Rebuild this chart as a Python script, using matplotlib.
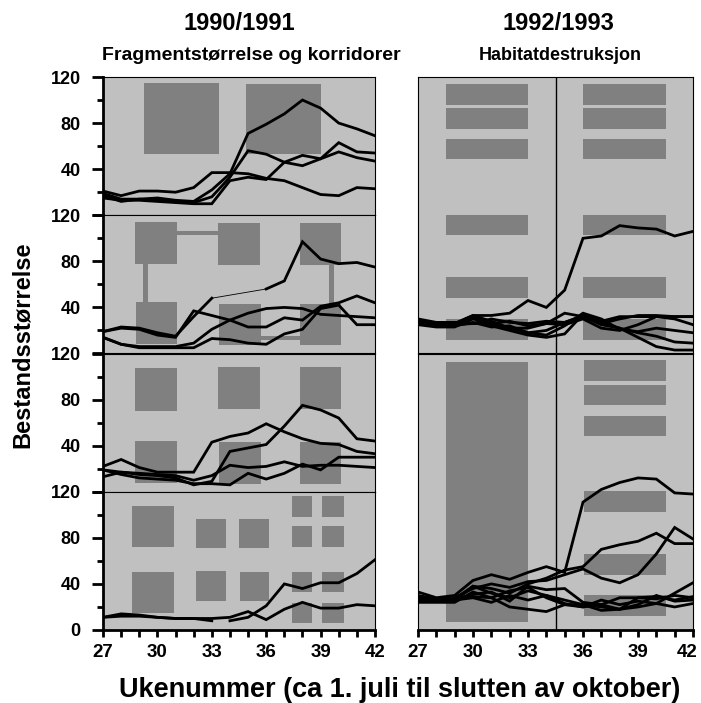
import numpy as np
import matplotlib.pyplot as plt
import matplotlib.transforms as mtransforms
from matplotlib.patches import Rectangle

nan = np.nan
weeks = np.arange(27, 43)

# --- population size per week ---
# 1990/1991: fragment size and corridors (4 panels)
panel1 = [
    [19, 14, 14, 15, 13, 12, 22, 36, 71, 79, 88, 100, 93, 80, 75, 69],
    [17, 12, 14, 13, 12, 11, 16, 33, 56, 53, 46, 43, 49, 63, 55, 54],
    [15, 13, 13, 12, 11, 10, 10, 30, 33, 31, 46, 52, 49, 55, 50, 47],
    [21, 17, 21, 21, 20, 24, 37, 37, 36, 32, 30, 24, 18, 17, 24, 23],
]
panel2 = [
    [19, 23, 22, 18, 15, 32, 48, nan, nan, 56, 63, 97, 82, 78, 79, 75],
    [19, 22, 21, 16, 14, 37, 33, 29, 23, 23, 31, 29, 41, 44, 50, 44],
    [14, 8, 6, 6, 6, 9, 21, 29, 35, 39, 40, 39, 34, 33, 32, 31],
    [14, 8, 5, 5, 5, 5, 13, 12, 9, 8, 17, 21, 39, 42, 25, 25],
]
panel3 = [
    [13, 17, 15, 14, 12, 6, 9, 35, 38, 41, 57, 75, 71, 64, 46, 44],
    [22, 28, 21, 17, 17, 17, 43, 48, 51, 59, 52, 46, 42, 41, 35, 33],
    [19, 17, 16, 15, 14, 10, 14, 23, 21, 22, 26, 22, 23, 23, 22, 21],
    [19, 15, 12, 11, 10, 7, 7, 6, 16, 11, 16, 24, 19, 30, 30, 30],
]
panel4 = [
    [11, 14, 13, 11, 10, 10, 8, nan, nan, nan, nan, nan, nan, nan, nan, nan],
    [nan, nan, nan, nan, nan, nan, nan, 8, 11, 21, 40, 36, 41, 41, 49, 61],
    [11, 12, 12, 11, 10, 10, 10, 11, 16, 9, 18, 24, 19, 19, 22, 21],
]
# 1992/1993: habitat destruction (2 panels)
panel5 = [
    [28, 25, 26, 33, 33, 35, 46, 40, 55, 100, 102, 111, 109, 108, 102, 106],
    [29, 26, 25, 32, 24, 20, 16, 14, 17, 34, 27, 22, 14, 6, 3, 3],
    [27, 24, 26, 33, 28, 22, 22, 26, 35, 32, 25, 22, 18, 15, 10, 9],
    [30, 27, 27, 26, 30, 27, 26, 28, 27, 33, 28, 32, 32, 32, 30, 25],
    [26, 25, 25, 26, 26, 28, 24, 26, 25, 30, 22, 20, 25, 32, 32, 32],
    [28, 25, 24, 27, 23, 24, 18, 16, 24, 35, 30, 21, 19, 22, 20, 18],
    [25, 23, 23, 30, 26, 22, 18, 20, 27, 32, 26, 30, 33, 33, 32, 32],
]
panel6 = [
    [33, 28, 30, 43, 48, 44, 50, 55, 50, 111, 122, 128, 132, 131, 119, 118],
    [30, 27, 27, 38, 36, 32, 40, 45, 52, 55, 70, 74, 77, 84, 75, 75],
    [28, 26, 28, 36, 40, 37, 42, 43, 48, 53, 45, 41, 48, 66, 89, 79],
    [27, 25, 26, 31, 33, 25, 38, 35, 36, 24, 22, 18, 20, 23, 32, 41],
    [26, 25, 25, 38, 32, 28, 34, 30, 23, 20, 22, 28, 28, 29, 26, 29],
    [25, 26, 27, 29, 28, 34, 37, 28, 22, 22, 20, 18, 22, 30, 25, 26],
    [24, 24, 24, 33, 28, 20, 18, 16, 22, 20, 26, 22, 25, 23, 20, 23],
    [28, 25, 26, 28, 24, 30, 26, 30, 26, 22, 17, 18, 28, 27, 30, 28],
]

# --- habitat patch drawings (x0, x1, y0, y1) in data units ---
patches1 = [(29.25, 33.4, 53, 115), (34.9, 39.0, 53, 114)]
patches2 = [(28.75, 31.1, 78, 114), (33.35, 35.65, 77, 113), (37.85, 40.1, 77, 113),
            (28.8, 31.1, 8, 44.5), (33.4, 35.7, 7.5, 43), (37.85, 40.15, 7.5, 43),
            (31.1, 33.35, 102.5, 106.5), (29.2, 29.5, 44.5, 78),
            (39.45, 39.75, 43, 77), (35.7, 37.85, 12, 15.5)]
patches3 = [(28.75, 31.1, 70, 107), (33.35, 35.65, 71.5, 108), (37.85, 40.1, 71.5, 108),
            (28.75, 31.1, 8, 44), (33.4, 35.7, 7, 43.5), (37.85, 40.15, 7, 43.5)]
patches4 = [(28.6, 30.9, 72, 108), (28.6, 30.9, 15, 50.5),
            (32.15, 33.8, 71.5, 96.5), (34.5, 36.15, 71.5, 96.5),
            (32.15, 33.8, 25.5, 51.5), (34.55, 36.15, 25.5, 50.5)]
for yy in [(98.5, 116.5), (72, 90), (33, 50.5), (6.5, 23.5)]:
    for xx in [(37.4, 38.55), (39.1, 40.3)]:
        patches4.append((xx[0], xx[1], yy[0], yy[1]))
rows = [(216, 234), (195, 213), (168.5, 186), (102.5, 120.5), (48, 66), (12, 30)]
patches5 = [(28.5, 33.0, a, b) for a, b in rows] + [(36.0, 40.55, a, b) for a, b in rows]
patches6 = [(28.5, 33.0, 7, 233)] + [(36.05, 40.55, a, b) for a, b in rows]

BG = '#c0c0c0'
PATCH = '#808080'
font = ['Liberation Sans', 'DejaVu Sans']

fig = plt.figure(figsize=(7.01, 7.03), dpi=100)

def draw(ax, series, rects, ymax):
    ax.set_facecolor(BG)
    for x0, x1, y0, y1 in rects:
        ax.add_patch(Rectangle((x0, y0), x1 - x0, y1 - y0, color=PATCH, lw=0, zorder=1))
    for s in series:
        s = np.array(s, dtype=float)
        ok = ~np.isnan(s)
        # thin connector over missing weeks
        ax.plot(weeks[ok], s[ok], color='black', lw=0.6, zorder=2)
        ax.plot(weeks, s, color='black', lw=2.0, zorder=3, solid_joinstyle='miter')
    ax.set_xlim(27, 42)
    ax.set_ylim(0, ymax)
    for sp in ax.spines.values():
        sp.set_linewidth(0.8)

def week_axis(ax):
    ax.spines['bottom'].set_linewidth(2)
    ax.set_xticks(range(27, 43, 3))
    ax.set_xticks(range(27, 43), minor=True)
    ax.set_xticklabels([str(w) for w in range(27, 43, 3)],
                       fontfamily=font, fontweight='bold', fontsize=13.5)
    ax.tick_params(axis='x', which='both', length=5, width=2, pad=5)

left_x, left_w = 103 / 701, 272 / 701
right_x, right_w = 418 / 701, 275 / 701
bottom = 1 - 630 / 703
ph = 138.25 / 703

left_data = [panel1, panel2, panel3, panel4]
left_rects = [patches1, patches2, patches3, patches4]
for i in range(4):
    ax = fig.add_axes([left_x, bottom + (3 - i) * ph, left_w, ph])
    draw(ax, left_data[i], left_rects[i], 120)
    ax.spines['left'].set_linewidth(2)
    ax.set_yticks([0, 40, 80, 120])
    ax.set_yticks([20, 60, 100], minor=True)
    ax.set_yticklabels(['0' if i == 3 else '', '40', '80', '120'],
                       fontfamily=font, fontweight='bold', fontsize=13)
    ax.tick_params(axis='y', which='major', length=8, width=2, pad=8)
    ax.tick_params(axis='y', which='minor', length=4, width=2)
    if i < 3:
        ax.set_xticks([])
    else:
        week_axis(ax)

rh = 2 * ph
for i, (data, rects) in enumerate([(panel5, patches5), (panel6, patches6)]):
    ax = fig.add_axes([right_x, bottom + (1 - i) * rh, right_w, rh])
    draw(ax, data, rects, 240)
    ax.axvline(34.5, color='black', lw=1, zorder=4)
    ax.set_yticks([])
    if i == 0:
        ax.set_xticks([])
    else:
        week_axis(ax)
        # keep the last label inside the picture
        last = ax.get_xticklabels()[-1]
        last.set_transform(last.get_transform() +
                           mtransforms.ScaledTranslation(-0.06, 0, fig.dpi_scale_trans))

fig.text(239 / 701, 1 - 24 / 703, '1990/1991', ha='center', va='center',
         fontfamily=font, fontweight='bold', fontsize=17)
fig.text(251 / 701, 1 - 56 / 703, 'Fragmentstørrelse og korridorer', ha='center', va='center',
         fontfamily=font, fontweight='bold', fontsize=14)
fig.text(558 / 701, 1 - 24 / 703, '1992/1993', ha='center', va='center',
         fontfamily=font, fontweight='bold', fontsize=17)
fig.text(560 / 701, 1 - 56 / 703, 'Habitatdestruksjon', ha='center', va='center',
         fontfamily=font, fontweight='bold', fontsize=13)
fig.text(400 / 701, 1 - 690 / 703, 'Ukenummer (ca 1. juli til slutten av oktober)',
         ha='center', va='center', fontfamily=font, fontweight='bold', fontsize=19.5)
fig.text(22 / 701, 1 - 345 / 703, 'Bestandsstørrelse', ha='center', va='center',
         rotation=90, fontfamily=font, fontweight='bold', fontsize=17)

fig.savefig('out.png', dpi=100, facecolor='white')
